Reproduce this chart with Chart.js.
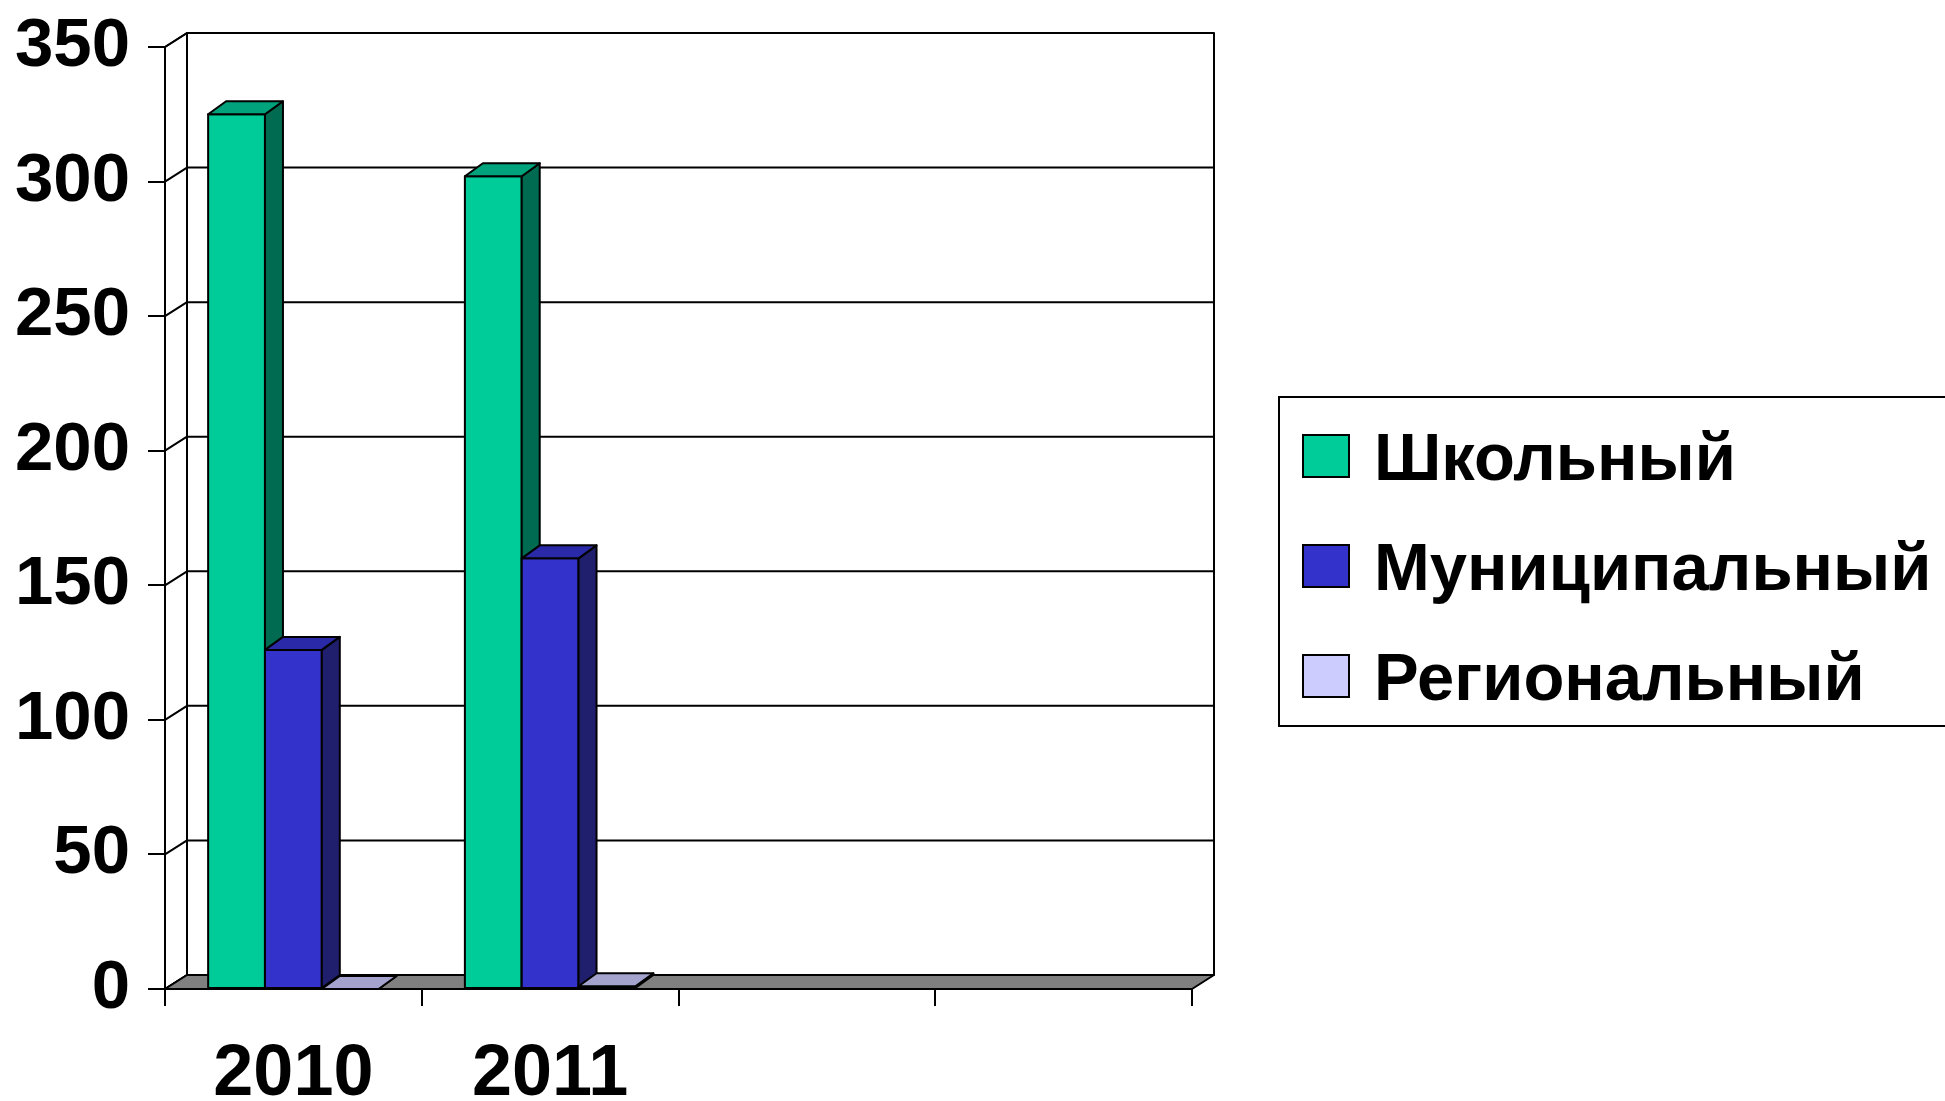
<!DOCTYPE html>
<html>
<head>
<meta charset="utf-8">
<script src="https://cdn.jsdelivr.net/npm/chart.js@4.4.1/dist/chart.umd.min.js"></script>
<style>
  html, body { margin: 0; padding: 0; background: #fff; overflow: hidden; }
  #wrap { width: 1945px; height: 1101px; position: relative; }
  #legend {
    position: absolute; left: 1278px; top: 396px; width: 720px; height: 331px;
    border: 2px solid #000; box-sizing: border-box; padding-top: 3px; background: #fff;
    font: bold 67px 'Liberation Sans', Arial, sans-serif; color: #000;
  }
  #legend .row { height: 110px; display: flex; align-items: center; white-space: nowrap; }
  #legend .sw { width: 48px; height: 44px; border: 2px solid #000; box-sizing: border-box;
                margin-left: 22px; margin-right: 24px; flex: none; }
</style>
</head>
<body>
<div id="wrap">
  <canvas id="chart" width="1945" height="1101"></canvas>
  <div id="legend"></div>
</div>
<script>
// data
const categories = ['2010', '2011', '', '']
const schoolValues = [325, 302, null, null]
const municipalValues = [126, 160, null, null]
const regionalValues = [0, 1, null, null]
const seriesNames = ['Школьный', 'Муниципальный', 'Региональный']
const yTicks = [0, 50, 100, 150, 200, 250, 300, 350]

// colours: front, side, top
const shades = [
  ['#00CC99', '#006B50', '#00A37B'],
  ['#3333CC', '#1F1F6E', '#2A2AA8'],
  ['#CCCCFF', '#8E8EB8', '#A3A3CE']
]

const FONT = "'Liberation Sans', Arial, sans-serif"
const wallDx = 22, wallDy = 14   // depth of the walls
const barDx = 18, barDy = 13     // depth of the bars

function poly(ctx, pts, fill) {
  ctx.beginPath()
  ctx.moveTo(pts[0][0], pts[0][1])
  for (let i = 1; i < pts.length; i++) ctx.lineTo(pts[i][0], pts[i][1])
  ctx.closePath()
  if (fill) { ctx.fillStyle = fill; ctx.fill() }
  ctx.stroke()
}

const box3d = {
  id: 'box3d',
  beforeDatasetsDraw(chart) {
    const {ctx, chartArea: a, scales: {y}} = chart
    ctx.save()
    ctx.strokeStyle = '#000'
    ctx.lineWidth = 2
    ctx.lineJoin = 'round'
    // back wall
    poly(ctx, [[a.left + wallDx, a.top - wallDy], [a.right + wallDx, a.top - wallDy],
               [a.right + wallDx, a.bottom - wallDy], [a.left + wallDx, a.bottom - wallDy]], '#fff')
    // side wall
    poly(ctx, [[a.left, a.top], [a.left + wallDx, a.top - wallDy],
               [a.left + wallDx, a.bottom - wallDy], [a.left, a.bottom]], '#fff')
    // gridlines
    yTicks.forEach(v => {
      const py = y.getPixelForValue(v)
      ctx.beginPath()
      ctx.moveTo(a.left, py)
      ctx.lineTo(a.left + wallDx, py - wallDy)
      ctx.lineTo(a.right + wallDx, py - wallDy)
      ctx.stroke()
    })
    // floor
    poly(ctx, [[a.left, a.bottom], [a.right, a.bottom],
               [a.right + wallDx, a.bottom - wallDy], [a.left + wallDx, a.bottom - wallDy]], '#808080')
    ctx.restore()
  },
  afterDatasetsDraw(chart) {
    const {ctx} = chart
    ctx.save()
    ctx.strokeStyle = '#000'
    ctx.lineWidth = 2
    ctx.lineJoin = 'round'
    for (let i = 0; i < categories.length; i++) {
      chart.data.datasets.forEach((ds, d) => {
        const el = chart.getDatasetMeta(d).data[i]
        if (!el || ds.data[i] == null) return
        const l = el.x - el.width / 2, r = el.x + el.width / 2
        const t = el.y, b = el.base
        const [front, side, top] = shades[d]
        if (b - t > 0.5) poly(ctx, [[l, t], [r, t], [r, b], [l, b]], front)
        poly(ctx, [[r, t], [r + barDx, t - barDy], [r + barDx, b - barDy], [r, b]], side)
        poly(ctx, [[l, t], [l + barDx, t - barDy], [r + barDx, t - barDy], [r, t]], top)
      })
    }
    ctx.restore()
  }
}

const chart = new Chart(document.getElementById('chart'), {
  type: 'bar',
  data: {
    labels: categories,
    datasets: [
      { label: seriesNames[0], data: schoolValues, backgroundColor: shades[0][0] },
      { label: seriesNames[1], data: municipalValues, backgroundColor: shades[1][0] },
      { label: seriesNames[2], data: regionalValues, backgroundColor: shades[2][0] }
    ].map(ds => Object.assign(ds, {
      borderColor: '#000', borderWidth: 2, categoryPercentage: 0.664, barPercentage: 1
    }))
  },
  options: {
    responsive: false,
    animation: false,
    layout: { padding: { top: 47, left: 0, right: 753, bottom: 0 } },
    scales: {
      x: {
        afterFit: s => { s.height = 112; s.paddingLeft = 0; s.paddingRight = 0 },
        grid: { drawOnChartArea: false, drawTicks: true, tickLength: 17, color: '#000', lineWidth: 2 },
        border: { display: true, color: '#000', width: 2 },
        ticks: { color: '#000', padding: 26, maxRotation: 0, font: { family: FONT, size: 72, weight: 'bold' } }
      },
      y: {
        min: 0, max: 350,
        afterFit: s => { s.width = 165; s.paddingTop = 0; s.paddingBottom = 0 },
        grid: { drawOnChartArea: false, drawTicks: true, tickLength: 17, color: '#000', lineWidth: 2 },
        border: { display: true, color: '#000', width: 2 },
        ticks: { stepSize: 50, color: '#000', padding: 18, font: { family: FONT, size: 69, weight: 'bold' } }
      }
    },
    plugins: {
      tooltip: { enabled: false },
      legend: { display: false }
    }
  },
  plugins: [box3d]
})

// legend built from the chart's datasets
const legendEl = document.getElementById('legend')
chart.data.datasets.forEach(ds => {
  const row = document.createElement('div')
  row.className = 'row'
  const sw = document.createElement('span')
  sw.className = 'sw'
  sw.style.background = ds.backgroundColor
  const txt = document.createElement('span')
  txt.textContent = ds.label
  row.appendChild(sw)
  row.appendChild(txt)
  legendEl.appendChild(row)
})
</script>
</body>
</html>
